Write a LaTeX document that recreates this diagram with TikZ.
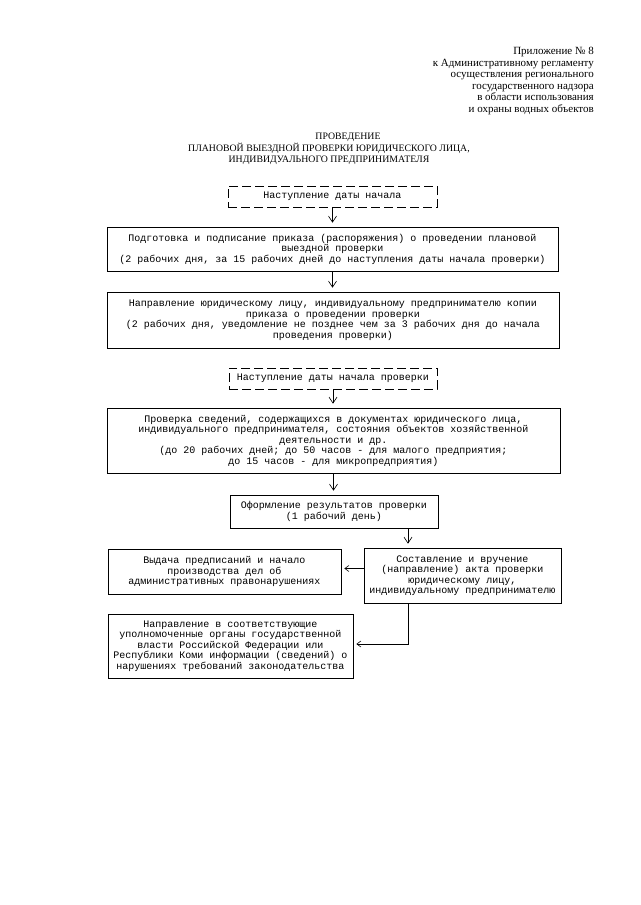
\documentclass[tikz,border=0pt]{standalone}
\usepackage{fontspec}
\setmainfont{Liberation Serif}
\newfontfamily\monofont{Liberation Mono}
\usetikzlibrary{arrows.meta}
\begin{document}
\begin{tikzpicture}[x=1pt,y=-1pt,
  box/.style={draw, line width=0.7pt, inner sep=0pt, align=center,
    font=\monofont\fontsize{10}{10.5}\selectfont},
  dbox/.style={box, dash pattern=on 9pt off 4pt},
  conn/.style={line width=0.6pt, shorten >=4pt, -{Straight Barb[length=6pt,width=8pt]}},
  hconn/.style={line width=0.6pt, shorten >=3pt, -{Straight Barb[length=4pt,width=6pt]}},
  serif/.style={font=\fontsize{11}{11.6}\selectfont},
]
\useasboundingbox[fill=white] (0,0) rectangle (640,905);

\node[serif, anchor=north east, align=right, inner sep=0pt] (hdr) at (594,47)
  {Приложение № 8\\
   к Административному регламенту\\
   осуществления регионального\\
   государственного надзора\\
   в области использования\\
   и охраны водных объектов};

\node[anchor=north, align=center, inner sep=0pt, font=\fontsize{9.8}{11.5}\selectfont] (title) at (329,133)
  {\hspace*{38pt}ПРОВЕДЕНИЕ\\
   ПЛАНОВОЙ ВЫЕЗДНОЙ ПРОВЕРКИ ЮРИДИЧЕСКОГО ЛИЦА,\\
   ИНДИВИДУАЛЬНОГО ПРЕДПРИНИМАТЕЛЯ};

\node[dbox, minimum width=209pt, minimum height=21pt] (b1) at (332.5,196.5)
  {Наступление даты начала};

\node[box, minimum width=451pt, minimum height=44pt] (b2) at (332.5,249)
  {Подготовка и подписание приказа (распоряжения) о проведении плановой\\
   выездной проверки\\
   (2 рабочих дня, за 15 рабочих дней до наступления даты начала проверки)};

\node[box, minimum width=452pt, minimum height=56pt] (b3) at (333,320)
  {Направление юридическому лицу, индивидуальному предпринимателю копии\\
   приказа о проведении проверки\\
   (2 рабочих дня, уведомление не позднее чем за 3 рабочих дня до начала\\
   проведения проверки)};

\node[dbox, minimum width=208pt, minimum height=21pt] (b4) at (333,378.5)
  {Наступление даты начала проверки};

\node[box, minimum width=453pt, minimum height=65pt] (b5) at (333.5,440.5)
  {Проверка сведений, содержащихся в документах юридического лица,\\
   индивидуального предпринимателя, состояния объектов хозяйственной\\
   деятельности и др.\\
   (до 20 рабочих дней; до 50 часов - для малого предприятия;\\
   до 15 часов - для микропредприятия)};

\node[box, minimum width=208pt, minimum height=33pt] (b6) at (334,511.5)
  {Оформление результатов проверки\\
   (1 рабочий день)};

\node[box, minimum width=233pt, minimum height=45pt] (b7) at (224.5,571.5)
  {Выдача предписаний и начало\\
   производства дел об\\
   административных правонарушениях};

\node[box, minimum width=197pt, minimum height=55pt] (b8) at (462.5,575.5)
  {Составление и вручение\\
   (направление) акта проверки\\
   юридическому лицу,\\
   индивидуальному предпринимателю};

\node[box, minimum width=245pt, minimum height=64pt] (b9) at (230.5,646)
  {Направление в соответствующие\\
   уполномоченные органы государственной\\
   власти Российской Федерации или\\
   Республики Коми информации (сведений) о\\
   нарушениях требований законодательства};

\draw[conn] (b1.south) -- (b1.south |- b2.north);
\draw[conn] (b2.south) -- (b2.south |- b3.north);
\draw[conn] (b4.south) -- (b4.south |- b5.north);
\draw[conn] (b5.south) -- (b5.south |- b6.north);
\draw[conn] ([xshift=74pt]b6.south) -- ([xshift=74pt]b6.south |- b8.north);
\draw[hconn] ([yshift=3pt]b8.west |- b7.east) -- ([yshift=3pt]b7.east);
\draw[hconn] ([xshift=-54.5pt]b8.south) |- ([yshift=2pt]b9.east);
\end{tikzpicture}
\end{document}
